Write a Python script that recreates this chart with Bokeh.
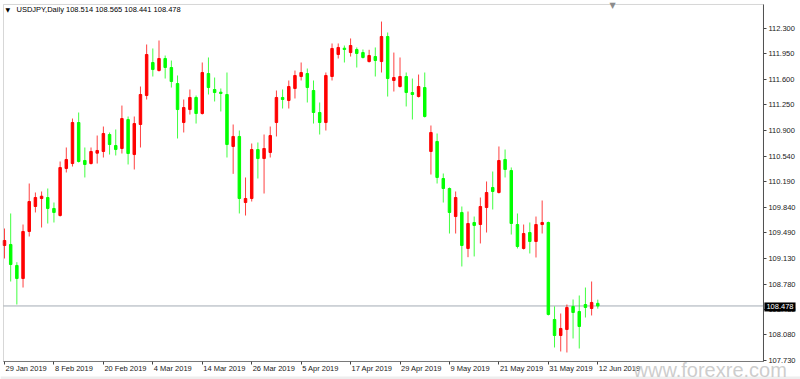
import pandas as pd
from bokeh.plotting import figure
from bokeh.models import (ColumnDataSource, FixedTicker, PrintfTickFormatter, LinearAxis,
                          Range1d, Label, LabelSet, BoxAnnotation)
from bokeh.core.properties import value
from bokeh.embed import file_html
from bokeh.resources import INLINE

symbol = "USDJPY,Daily"
dates = pd.bdate_range("2019-01-29", "2019-06-12")

opens = [109.311, 109.325, 109.036, 108.856, 109.504, 109.848, 109.958, 109.972, 109.821, 109.724,
         110.372, 110.440, 111.005, 110.482, 110.440, 110.583, 110.606, 110.840, 110.688, 110.647,
         111.046, 110.564, 110.978, 111.377, 111.832, 111.721, 111.887, 111.763, 111.542, 111.005,
         111.184, 111.350, 111.129, 111.680, 111.460, 111.423, 111.391, 110.675, 110.813, 109.903,
         109.958, 110.633, 110.509, 110.592, 111.005, 111.350, 111.308, 111.474, 111.639, 111.680,
         111.446, 111.143, 111.005, 111.639, 111.942, 112.029, 111.969, 112.011, 111.969, 111.845,
         111.914, 111.845, 112.190, 111.584, 111.501, 111.639, 111.418, 111.363, 111.487, 110.606,
         110.744, 110.234, 110.096, 109.710, 109.766, 109.270, 109.628, 109.600, 109.834, 110.110,
         110.041, 110.496, 110.344, 109.600, 109.270, 109.490, 109.366, 109.600, 109.628, 108.292,
         108.071, 108.154, 108.471, 108.402, 108.498, 108.443, 108.514]
highs = [109.545, 109.752, 109.081, 109.600, 110.165, 110.041, 110.055, 110.096, 109.903, 110.468,
         110.661, 111.060, 111.143, 110.661, 110.661, 110.826, 110.950, 110.868, 110.909, 111.239,
         111.088, 111.088, 111.501, 112.080, 112.025, 112.135, 111.928, 111.859, 111.653, 111.322,
         111.460, 111.377, 111.832, 111.901, 111.625, 111.474, 111.694, 110.978, 110.895, 110.248,
         110.716, 110.730, 110.840, 110.950, 111.446, 111.460, 111.584, 111.721, 111.832, 111.749,
         111.584, 111.281, 111.694, 112.094, 112.094, 112.066, 112.163, 112.039, 112.011, 112.007,
         112.039, 112.396, 112.245, 111.969, 111.901, 111.694, 111.611, 111.666, 111.694, 110.964,
         110.854, 110.303, 110.110, 110.055, 109.848, 109.779, 109.710, 109.972, 110.193, 110.330,
         110.675, 110.633, 110.386, 109.752, 109.600, 109.628, 109.710, 109.931, 109.640, 108.471,
         108.374, 108.498, 108.567, 108.622, 108.732, 108.815, 108.565]
lows = [109.132, 108.815, 108.498, 108.732, 109.435, 109.766, 109.559, 109.614, 109.628, 109.710,
        110.317, 110.399, 110.454, 110.248, 110.427, 110.440, 110.523, 110.564, 110.551, 110.578,
        110.427, 110.358, 110.661, 111.322, 111.639, 111.708, 111.611, 111.487, 110.785, 110.868,
        111.115, 110.991, 111.115, 111.391, 111.295, 111.157, 110.523, 110.298, 109.752, 109.724,
        109.917, 110.234, 110.027, 110.523, 110.813, 111.198, 111.198, 111.336, 111.584, 111.281,
        110.991, 110.840, 110.895, 111.584, 111.887, 111.832, 111.914, 111.763, 111.887, 111.832,
        111.639, 111.694, 111.363, 111.432, 111.487, 111.226, 111.047, 111.350, 111.074, 110.289,
        110.165, 109.903, 109.476, 109.476, 109.022, 109.150, 109.160, 109.339, 109.490, 109.807,
        110.027, 110.248, 109.462, 109.270, 109.256, 109.201, 109.146, 109.476, 108.347, 107.906,
        107.851, 107.837, 108.030, 107.892, 108.319, 108.347, 108.441]
closes = [109.380, 109.049, 108.856, 109.504, 109.917, 109.972, 109.990, 109.821, 109.766, 110.385,
          110.496, 111.005, 110.468, 110.427, 110.606, 110.620, 110.854, 110.702, 110.633, 111.060,
          110.578, 110.991, 111.391, 111.942, 111.735, 111.887, 111.763, 111.570, 111.184, 111.212,
          111.350, 111.129, 111.694, 111.487, 111.418, 111.405, 110.702, 110.813, 109.958, 109.958,
          110.633, 110.509, 110.647, 110.826, 111.350, 111.322, 111.501, 111.653, 111.694, 111.487,
          111.143, 111.005, 111.653, 112.025, 112.039, 112.011, 112.066, 111.956, 111.901, 111.928,
          111.859, 112.190, 111.611, 111.625, 111.639, 111.418, 111.391, 111.501, 111.088, 110.868,
          110.248, 110.096, 109.766, 109.972, 109.311, 109.614, 109.587, 109.848, 110.041, 110.055,
          110.482, 110.358, 109.614, 109.297, 109.476, 109.366, 109.600, 109.628, 108.361, 108.071,
          108.168, 108.457, 108.388, 108.195, 108.457, 108.526, 108.478]

date_tick_labels = ["29 Jan 2019", "8 Feb 2019", "20 Feb 2019", "4 Mar 2019", "14 Mar 2019",
                    "26 Mar 2019", "5 Apr 2019", "17 Apr 2019", "29 Apr 2019", "9 May 2019",
                    "21 May 2019", "31 May 2019", "12 Jun 2019"]
price_ticks = [112.300, 111.950, 111.600, 111.250, 110.900, 110.540, 110.190, 109.840,
               109.490, 109.130, 108.780, 108.430, 108.080, 107.730]
last_price = closes[-1]

idx = list(range(len(opens)))
up_color, down_color = "#ff0000", "#00ff00"
colors = [up_color if c >= o else down_color for o, c in zip(opens, closes)]
tops = [max(o, c) for o, c in zip(opens, closes)]
bottoms = [min(o, c) for o, c in zip(opens, closes)]
src = ColumnDataSource(dict(x=idx, high=highs, low=lows, top=tops, bottom=bottoms, color=colors))

date_str = [f"{d.day} {d.strftime('%b %Y')}" for d in dates]
tick_idx = [date_str.index(s) for s in date_tick_labels]

FONT = "Liberation Sans"

# visible ranges (whole canvas) and the chart box inside them
X_LO, X_HI = -0.647, 128.8
Y_LO, Y_HI = 107.465, 112.686
CH_LEFT, CH_RIGHT = -0.16, 122.8
CH_BOTTOM, CH_TOP = 107.713, 112.631

p = figure(width=800, height=379,
           x_range=Range1d(X_LO, X_HI), y_range=Range1d(Y_LO, Y_HI),
           output_backend="svg", toolbar_location=None,
           x_axis_location=None, y_axis_location=None,
           min_border_left=0, min_border_top=0, min_border_right=0, min_border_bottom=0)
p.background_fill_color = "white"
p.border_fill_color = "white"
p.outline_line_color = None
p.xgrid.visible = False
p.ygrid.visible = False

# bottom window strip
p.add_layout(BoxAnnotation(bottom=Y_LO, top=107.506, fill_color="#eeeeee", fill_alpha=1,
                           line_color=None, level="underlay"))

# current price line
p.segment(x0=[CH_LEFT], x1=[CH_RIGHT], y0=[last_price], y1=[last_price],
          line_color="#a4abb4", line_width=1, level="underlay")

p.segment(x0="x", y0="low", x1="x", y1="high", source=src, line_color="color",
          line_width=1, line_alpha=0.75)
p.vbar(x="x", width=0.4, top="top", bottom="bottom", source=src,
       fill_color="color", line_color="color", line_width=1)

# chart frame
p.add_layout(BoxAnnotation(left=CH_LEFT, right=CH_RIGHT, bottom=CH_BOTTOM, top=CH_TOP,
                           fill_alpha=0, line_color="#7a7a7a", line_width=1))

yaxis = LinearAxis(ticker=FixedTicker(ticks=price_ticks),
                   formatter=PrintfTickFormatter(format="%.3f"),
                   fixed_location=CH_RIGHT, bounds=(CH_BOTTOM, CH_TOP))
yaxis.major_tick_out = 3
yaxis.major_tick_in = 0
yaxis.minor_tick_line_color = None
yaxis.axis_line_color = "#444444"
yaxis.major_tick_line_color = "#444444"
yaxis.major_label_standoff = 2
yaxis.major_label_text_font = FONT
yaxis.major_label_text_font_size = "7.5px"
yaxis.major_label_text_color = "#1a1a1a"
p.add_layout(yaxis, "right")

xaxis = LinearAxis(ticker=FixedTicker(ticks=tick_idx),
                   major_label_overrides={i: "" for i in tick_idx},
                   fixed_location=CH_BOTTOM, bounds=(CH_LEFT, CH_RIGHT))
xaxis.major_tick_out = 3
xaxis.major_tick_in = 0
xaxis.minor_tick_line_color = None
xaxis.axis_line_color = "#7a7a7a"
xaxis.major_tick_line_color = "#444444"
xaxis.major_label_text_font_size = "1px"
p.add_layout(xaxis, "below")

lab_src = ColumnDataSource(dict(x=tick_idx, y=[CH_BOTTOM] * len(tick_idx), text=date_tick_labels))
p.add_layout(LabelSet(x="x", y="y", text="text", source=lab_src, x_offset=1, y_offset=-3,
                      text_align="left", text_baseline="top",
                      text_font=value(FONT), text_font_size=value("7.5px"),
                      text_color="#1a1a1a"))

p.add_layout(Label(x=5, y=374, x_units="screen", y_units="screen", text="\u25bc",
                   text_font="DejaVu Sans", text_font_size="6px", text_color="#000000",
                   text_baseline="top", text_align="left"))
title = f"{symbol}  {opens[-1]:.3f} {highs[-1]:.3f} {lows[-1]:.3f} {closes[-1]:.3f}"
p.add_layout(Label(x=16, y=375, x_units="screen", y_units="screen", text=title,
                   text_font=FONT, text_font_size="7.5px", text_color="#000000",
                   text_baseline="top", text_align="left"))

p.add_layout(Label(x=612, y=379, x_units="screen", y_units="screen", text="\u25bc",
                   text_font="DejaVu Sans", text_font_size="8px", text_color="#8c8c8c",
                   text_baseline="top", text_align="center"))

p.add_layout(Label(x=CH_RIGHT, y=last_price, x_offset=1, y_offset=-1,
                   text=f"{last_price:.3f}", text_font=FONT, text_font_size="7.5px",
                   text_color="white", text_baseline="middle", text_align="left",
                   background_fill_color="black", padding=2))

p.add_layout(Label(x=633, y=10, x_units="screen", y_units="screen", text="www.forexre.com",
                   text_font=FONT, text_font_size="20px", text_color="#c4c4c4",
                   text_alpha=0.85, text_baseline="alphabetic", text_align="left"))

open("out.html", "w").write(file_html(p, INLINE))
